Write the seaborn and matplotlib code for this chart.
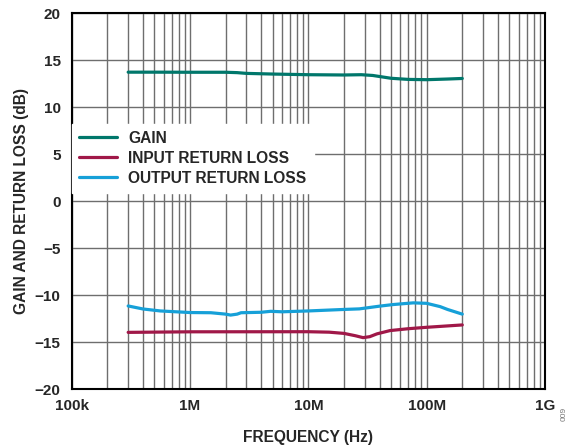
import matplotlib
matplotlib.use("Agg")
import matplotlib.pyplot as plt
from matplotlib.ticker import FixedLocator, NullFormatter, LogLocator
import numpy as np
import pandas as pd
import seaborn as sns

# Frequency sweep points (Hz) and measured curves (dB)
gain_freq = [300e3, 500e3, 1e6, 2e6, 2.5e6, 3e6, 5e6, 10e6, 20e6, 28e6, 35e6,
             50e6, 70e6, 100e6, 150e6, 200e6]
gain_db = [13.75, 13.75, 13.74, 13.74, 13.70, 13.62, 13.55, 13.48, 13.45, 13.48,
           13.40, 13.10, 12.98, 12.95, 13.02, 13.08]

input_freq = [300e3, 1e6, 10e6, 15e6, 20e6, 25e6, 29e6, 33e6, 38e6, 49e6, 70e6,
              100e6, 200e6]
input_db = [-13.94, -13.88, -13.87, -13.92, -14.05, -14.30, -14.50, -14.40, -14.10,
            -13.75, -13.55, -13.40, -13.15]

output_freq = [300e3, 400e3, 560e3, 1e6, 1.5e6, 2e6, 2.2e6, 2.5e6, 2.7e6, 4e6, 4.8e6,
               6e6, 10e6, 20e6, 27e6, 40e6, 52e6, 77e6, 100e6, 130e6, 150e6, 200e6]
output_db = [-11.13, -11.45, -11.66, -11.83, -11.85, -12.00, -12.10, -12.00, -11.85,
             -11.80, -11.70, -11.75, -11.66, -11.50, -11.44, -11.15, -10.98, -10.80,
             -10.85, -11.20, -11.50, -12.00]

series_names = ["GAIN", "INPUT RETURN LOSS", "OUTPUT RETURN LOSS"]
series_colors = ["#00776b", "#a01848", "#16a0d8"]

x_ticks = [1e5, 1e6, 1e7, 1e8, 1e9]
x_tick_labels = ["100k", "1M", "10M", "100M", "1G"]
y_ticks = [-20, -15, -10, -5, 0, 5, 10, 15, 20]
y_tick_labels = ["\u221220", "\u221215", "\u221210", "\u22125", "0", "5", "10", "15", "20"]

frames = []
for name, fr, db in zip(series_names,
                        [gain_freq, input_freq, output_freq],
                        [gain_db, input_db, output_db]):
    frames.append(pd.DataFrame({"freq": fr, "db": db, "series": name}))
df = pd.concat(frames, ignore_index=True)

sns.set_style("white")
plt.rcParams["font.family"] = ["Liberation Sans", "DejaVu Sans"]
plt.rcParams["font.weight"] = "bold"

fig = plt.figure(figsize=(5.77, 4.48), dpi=100)
ax = fig.add_axes([0.1243, 0.131, 0.8202, 0.839])

sns.lineplot(data=df, x="freq", y="db", hue="series", hue_order=series_names,
             palette=series_colors, linewidth=2.3, ax=ax, sort=True,
             estimator=None, legend=False, zorder=3)

ax.set_xscale("log")
ax.set_xlim(1e5, 1e9)
ax.set_ylim(-20, 20)

ax.xaxis.set_major_locator(FixedLocator(x_ticks))
ax.set_xticklabels(x_tick_labels)
ax.xaxis.set_minor_locator(LogLocator(base=10, subs=np.arange(2, 10)))
ax.xaxis.set_minor_formatter(NullFormatter())
ax.set_yticks(y_ticks)
ax.set_yticklabels(y_tick_labels)

grid_color = "#6e6e6e"
ax.grid(True, which="major", axis="both", color=grid_color, linewidth=1.0, zorder=0)
ax.grid(True, which="minor", axis="x", color=grid_color, linewidth=1.0, zorder=0)
ax.set_axisbelow(True)
ax.tick_params(axis="y", which="both", length=0, pad=8, labelsize=11)
ax.tick_params(axis="x", which="both", length=0, pad=7, labelsize=11)
for lbl in ax.get_xticklabels() + ax.get_yticklabels():
    lbl.set_fontweight("bold")

for sp in ax.spines.values():
    sp.set_color("black")
    sp.set_linewidth(1.5)

ax.set_xlabel("FREQUENCY (Hz)", fontsize=11.2, fontweight="bold", labelpad=12)
ax.set_ylabel("GAIN AND RETURN LOSS (dB)", fontsize=11.2, fontweight="bold", labelpad=4)

# Legend on a white panel that hides the grid behind it
handles = [plt.Line2D([0], [0], color=c, linewidth=2.3) for c in series_colors]
leg = ax.legend(handles, series_names, loc="upper left", bbox_to_anchor=(0.0, 0.707),
                frameon=True, fancybox=False, framealpha=1.0, edgecolor="white",
                facecolor="white", fontsize=11.2, handlelength=2.45, handletextpad=0.75,
                labelspacing=0.33, borderpad=0.45, borderaxespad=0.0)
for t in leg.get_texts():
    t.set_fontweight("bold")
leg.set_zorder(5)

fig.text(0.978, 0.075, "009", rotation=90, fontsize=6, color="#777777",
         ha="center", va="center", fontweight="normal")

fig.savefig("out.png", dpi=100)
